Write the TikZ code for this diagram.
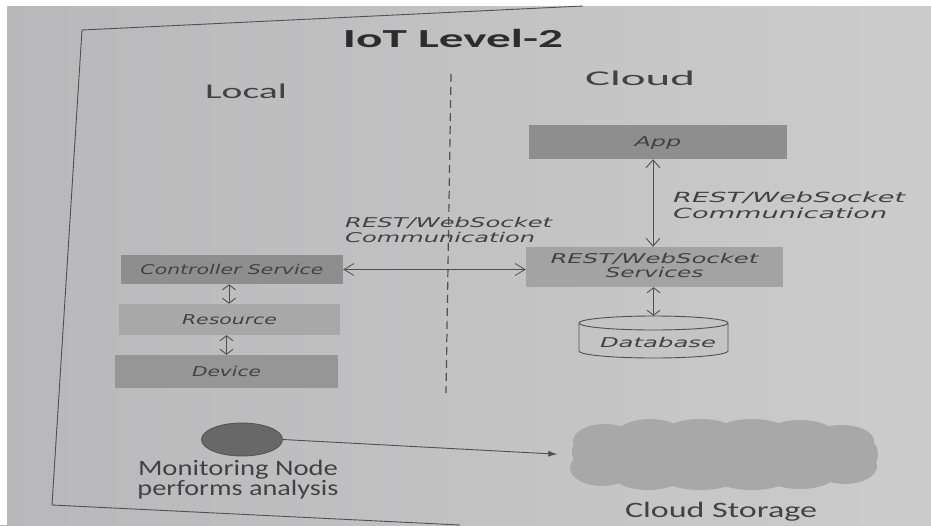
\documentclass[tikz,border=0pt]{standalone}
\usepackage{fontspec}
\usepackage{graphicx}
\usetikzlibrary{shapes.geometric,arrows.meta}
\newfontfamily\calfont{Carlito}
\newfontfamily\verfont{DejaVu Sans}
\newcommand\fw[2]{\resizebox{#1}{\height}{#2}}
\definecolor{bgL}{RGB}{184,184,186}
\definecolor{bgR}{RGB}{204,204,204}
\definecolor{ink}{RGB}{66,66,66}
\definecolor{inkD}{RGB}{45,45,45}
\definecolor{lineC}{RGB}{80,80,80}
\definecolor{boxA}{RGB}{142,142,142}
\definecolor{boxB}{RGB}{168,168,168}
\definecolor{boxC}{RGB}{150,150,150}
\definecolor{boxD}{RGB}{163,163,163}
\definecolor{cylC}{RGB}{196,196,196}
\definecolor{cloudC}{RGB}{168,168,168}
\definecolor{monC}{RGB}{104,104,104}
\begin{document}
\begin{tikzpicture}[x=1pt,y=-1pt,
  box/.style={rectangle, inner sep=0pt, text=ink,
    font=\verfont\itshape\fontsize{13.5}{13}\selectfont},
  onebox/.style={box, text height=9.8pt, text depth=0pt},
  lab/.style={inner sep=0pt, text=ink, anchor=base west,
    font=\verfont\itshape\fontsize{13.5}{15}\selectfont},
  plain/.style={inner sep=0pt, text=ink, font=\calfont\fontsize{21}{17}\selectfont},
  dblS/.style={draw=lineC, line width=0.9pt,
    {Straight Barb[length=5pt,width=13pt]}-{Straight Barb[length=5pt,width=13pt]}},
  dblM/.style={draw=lineC, line width=0.9pt,
    {Straight Barb[length=8pt,width=14pt]}-{Straight Barb[length=8pt,width=14pt]}},
  dblH/.style={draw=lineC, line width=0.8pt,
    {Straight Barb[length=10pt,width=12pt]}-{Straight Barb[length=10pt,width=12pt]}},
  puff/.style={fill=cloudC},
]
\useasboundingbox (0,0) rectangle (931,525);
% paper
\fill[left color=bgL, right color=bgR] (0,0) rectangle (931,525);
\fill[white] (0,0) rectangle (931,6);
\fill[white] (0,0) rectangle (7,525);
% frame
\draw[lineC, line width=0.9pt] (583,6) -- (82,30) -- (52,505) -- (460,525);

% headings
\node[plain, font=\calfont\bfseries\fontsize{26}{26}\selectfont, text=inkD, anchor=base] (title) at (453,47) {\fw{220pt}{IoT Level-2}};
\node[plain, anchor=base] (local) at (246,98) {\fw{82pt}{Local}};
\node[plain, anchor=base] (cloudhd) at (640,85) {\fw{110pt}{Cloud}};

% divider
\coordinate (divtop) at (451,74);
\coordinate (divbot) at (446,393);
\draw[lineC, line width=1.2pt, dash pattern=on 8pt off 5pt] (divtop) -- (divbot);

% local stack
\node[onebox, fill=boxA, minimum width=222pt, minimum height=29pt] (ctrl) at (232,269.5) {\fw{183pt}{Controller Service}};
\node[onebox, fill=boxB, minimum width=221pt, minimum height=31pt] (res) at (229.5,319.5) {\fw{95pt}{Resource}};
\node[onebox, fill=boxC, minimum width=223pt, minimum height=33pt] (dev) at (226.5,371.5) {\fw{69pt}{Device}};
\draw[dblS] ([xshift=-3pt]ctrl.south) -- ([xshift=-3pt]ctrl.south |- res.north);
\draw[dblS] (res.south -| dev.north) -- (dev.north);

% cloud side
\node[onebox, fill=boxA, minimum width=258pt, minimum height=34pt] (app) at (658,142) {\fw{47pt}{App}};
\node[box, fill=boxD, minimum width=257pt, minimum height=40pt] (svc) at (654.5,267)
  {\begin{tabular}{@{}c@{}}\fw{208pt}{REST/WebSocket}\\\fw{98pt}{Services}\end{tabular}};
% database cylinder
\draw[lineC, line width=0.9pt, fill=cylC] (579,323) -- (579,351)
  arc[start angle=180, end angle=360, x radius=74.5pt, y radius=7pt] -- (728,323);
\draw[lineC, line width=0.9pt, fill=cylC] (653.5,323) ellipse[x radius=74.5pt, y radius=7pt];
\node[box, text height=20pt, text depth=0pt, minimum width=149pt, minimum height=42pt] (db) at (653.5,337) {\hspace{9pt}\fw{116pt}{Database}};

\draw[dblM] ([xshift=-5pt]app.south) -- ([xshift=-5pt]app.south |- svc.north);
\draw[dblS] (svc.south -| db.north) -- (db.north);
\draw[dblH] (ctrl.east) -- (ctrl.east -| svc.west);

% labels
\node[lab] (lbl1) at (345,227) {\begin{tabular}[t]{@{}l@{}}\fw{207pt}{REST/WebSocket}\\\fw{190pt}{Communication}\end{tabular}};
\node[lab, font=\verfont\itshape\fontsize{14}{16}\selectfont] (lbl2) at (673,202) {\begin{tabular}[t]{@{}l@{}}\fw{232pt}{REST/WebSocket}\\\fw{214pt}{Communication}\end{tabular}};

% cloud (blob of puffs)
\fill[puff] (725,455) ellipse[x radius=138pt, y radius=28pt];
\foreach \cx/\cy/\rx/\ry in {605/441/32/17, 650/435/34/16, 700/433/36/14, 752/432/36/13, 800/434/34/14, 842/441/32/16,
  602/468/32/18, 648/474/36/16, 700/477/38/13, 752/477/38/13, 800/474/36/15, 845/466/32/18,
  588/452/16/17, 862/454/16/17} {
  \fill[puff] (\cx,\cy) ellipse[x radius=\rx pt, y radius=\ry pt];
}
\node[rectangle, inner sep=0pt, minimum width=305pt, minimum height=70pt] (cloud) at (725,455) {};

% monitoring and cloud storage
\node[ellipse, fill=monC, draw=lineC, line width=0.8pt, minimum width=81pt, minimum height=33pt, inner sep=0pt] (mon) at (242,439.5) {};
\node[plain, font=\calfont\fontsize{22}{17}\selectfont, anchor=base] (montxt) at (238,475)
  {\begin{tabular}[t]{@{}c@{}}\fw{200pt}{Monitoring Node}\\\fw{201pt}{performs analysis}\end{tabular}};
\node[plain, font=\calfont\fontsize{22}{17}\selectfont, anchor=base] (cstore) at (721,517) {\fw{192pt}{Cloud Storage}};
\draw[lineC, line width=0.9pt, -{Latex[length=9pt,width=6pt]}, shorten >=15pt] (mon.east) -- (cloud.west);
\end{tikzpicture}
\end{document}
